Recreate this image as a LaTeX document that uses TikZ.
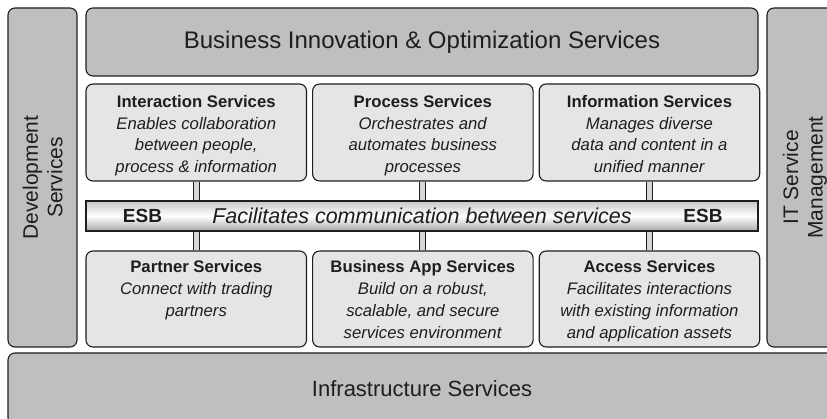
\documentclass[tikz,border=0pt]{standalone}
\usepackage{fontspec}
\setmainfont{Liberation Sans}
\usepackage{tikz}
\usetikzlibrary{positioning}
\definecolor{soadark}{RGB}{30,30,30}
\definecolor{soagrey}{RGB}{191,191,191}
\definecolor{soalight}{RGB}{229,229,229}
\definecolor{soapipe}{RGB}{215,215,215}
\definecolor{soashade}{RGB}{200,200,200}
\tikzset{
  layer/.style={
    draw=soadark,
    line width=1.1pt,
    rounded corners=7pt,
    fill=soagrey,
    inner sep=0pt,
    align=center,
    text=soadark
  },
  bigtext/.style={font=\fontsize{24}{28}\selectfont},
  sidebox/.style={layer, rotate=90, font=\fontsize{21}{24.5}\selectfont},
  svcbox/.style={layer, fill=soalight, minimum width=220.5pt},
  svctext/.style={align=center, inner sep=0pt, text=soadark,
    font=\fontsize{16.7}{21.8}\selectfont},
  esbbar/.style={
    draw=soadark,
    line width=1.1pt,
    top color=soashade,
    bottom color=soashade!85!black,
    middle color=white,
    inner sep=0pt,
    text=soadark
  },
  esbtag/.style={font=\bfseries\fontsize{19}{22}\selectfont, inner sep=0pt, text=soadark},
  pipe/.style={draw=soadark, line width=0.9pt, double=soapipe, double distance=5pt}
}

\begin{document}
\begin{tikzpicture}[x=1pt,y=-1pt,node distance=5pt]
  \useasboundingbox (0,0) rectangle (827,419);
  \clip (0,0) rectangle (827,419);

  % outer layers
  \node[layer,bigtext,minimum width=672pt,minimum height=68pt]
    (bios) at (422,42) {Business Innovation \& Optimization Services};
  \node[sidebox,minimum width=339pt,minimum height=69pt]
    (devsvc) at (42.5,177.5) {Development\\Services};
  \node[sidebox,minimum width=339pt,minimum height=76pt]
    (itsm) at (805,177.5) {IT Service\\Management};
  \node[layer,bigtext,font=\fontsize{22}{26}\selectfont,minimum width=828pt,minimum height=72pt]
    (infra) at (422,389) {Infrastructure Services};

  % upper services
  \node[svcbox,minimum height=97pt] (inter) at (196.25,132.5) {};
  \node[svcbox,minimum height=97pt,right=of inter] (process) {};
  \node[svcbox,minimum height=97pt,right=of process] (info) {};

  % ESB
  \node[esbbar,minimum width=672pt,minimum height=30pt,
    font=\itshape\fontsize{21.5}{24}\selectfont]
    (esb) at (422,216) {Facilitates communication between services};
  \node[esbtag] (esbwest) at (142.5,216) {ESB};
  \node[esbtag] (esbeast) at (703,216) {ESB};

  % lower services
  \node[svcbox,minimum height=96pt] (partner) at (196.25,299) {};
  \node[svcbox,minimum height=96pt,right=of partner] (bizapp) {};
  \node[svcbox,minimum height=96pt,right=of bizapp] (access) {};

  \node[svctext,below=11.5pt of inter.north] (intertext)
    {\textbf{Interaction Services}\\\textit{Enables collaboration}\\
     \textit{between people,}\\\textit{process \& information}};
  \node[svctext,below=11.5pt of process.north] (processtext)
    {\textbf{Process Services}\\\textit{Orchestrates and}\\
     \textit{automates business}\\\textit{processes}};
  \node[svctext,below=11.5pt of info.north] (infotext)
    {\textbf{Information Services}\\\textit{Manages diverse}\\
     \textit{data and content in a}\\\textit{unified manner}};
  \node[svctext,below=10pt of partner.north] (partnertext)
    {\textbf{Partner Services}\\\textit{Connect with trading}\\
     \textit{partners}};
  \node[svctext,below=10pt of bizapp.north] (bizapptext)
    {\textbf{Business App Services}\\\textit{Build on a robust,}\\
     \textit{scalable, and secure}\\\textit{services environment}};
  \node[svctext,below=10pt of access.north] (accesstext)
    {\textbf{Access Services}\\\textit{Facilitates interactions}\\
     \textit{with existing information}\\\textit{and application assets}};

  \foreach \u/\l in {inter/partner,process/bizapp,info/access} {
    \draw[pipe] (\u.south) -- (\u.south |- esb.north);
    \draw[pipe] (esb.south -| \l.north) -- (\l.north);
  }
\end{tikzpicture}
\end{document}
